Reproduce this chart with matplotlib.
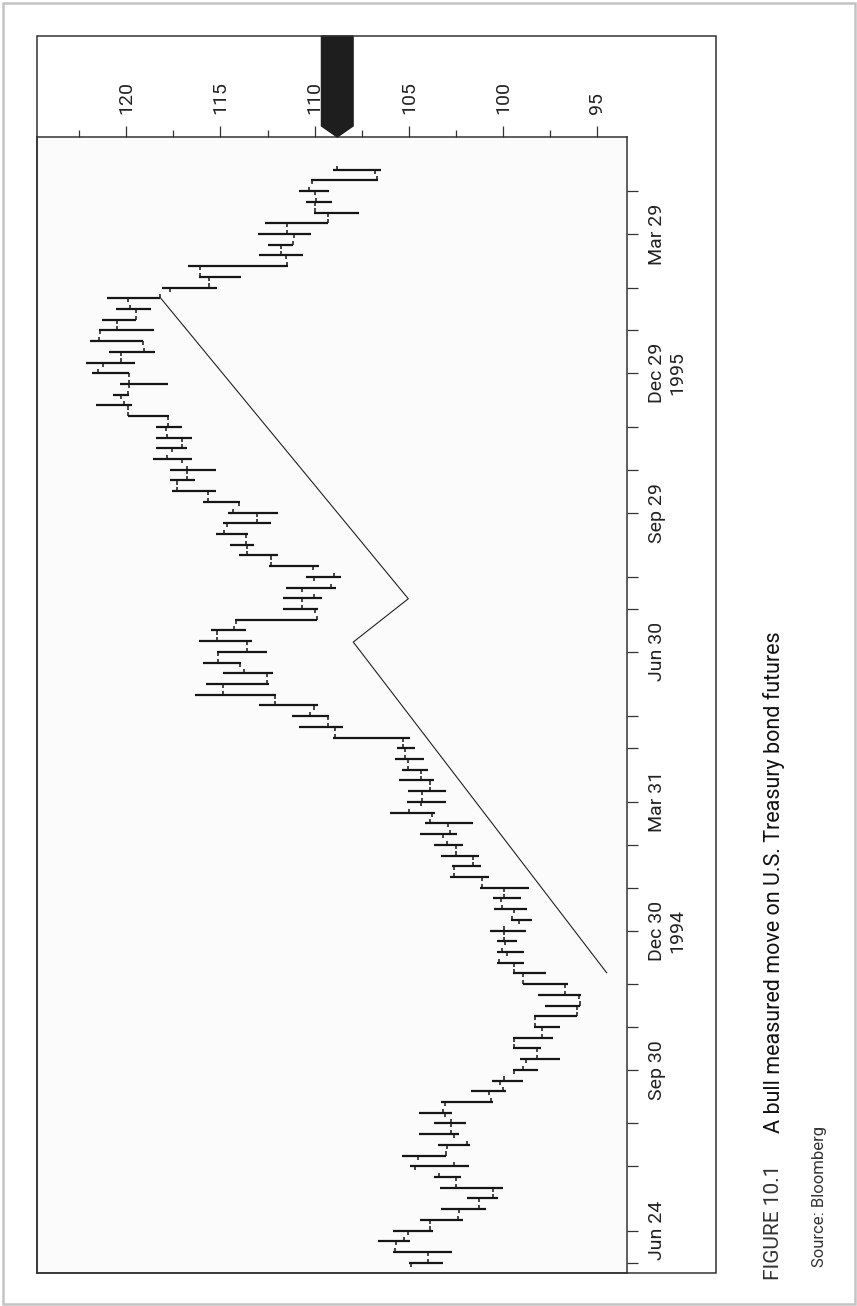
import matplotlib
matplotlib.use("agg")
import matplotlib.pyplot as plt
from matplotlib.patches import Polygon, Rectangle
from matplotlib import font_manager

# weekly T-bond futures bars, Jun 1994 - May 1996
# index 0 = first weekly bar at the bottom of the (rotated) chart
HIGH = [104.98, 105.86, 106.66, 105.86, 104.39, 103.30, 101.93, 103.33, 103.68, 104.93,
        105.37, 103.44, 104.45, 103.68, 104.45, 103.30, 101.70, 100.61, 99.46, 99.10,
        99.49, 99.49, 98.34, 98.34, 97.78, 98.13, 98.96, 99.46, 100.31, 100.31,
        100.31, 100.69, 99.60, 100.47, 100.55, 101.23, 102.82, 102.73, 103.30, 103.68,
        104.39, 104.15, 106.00, 105.08, 105.03, 105.51, 105.37, 105.74, 105.65, 109.01,
        110.83, 111.20, 112.94, 116.35, 115.77, 114.85, 115.94, 115.20, 116.14, 115.50,
        114.23, 111.67, 111.67, 111.54, 110.48, 112.43, 114.02, 114.50, 115.22, 114.88,
        114.62, 115.94, 117.57, 117.68, 117.68, 118.60, 118.44, 118.44, 118.44, 119.89,
        121.62, 120.69, 120.33, 121.80, 122.14, 120.90, 121.91, 121.43, 121.29, 120.56,
        121.04, 118.12, 116.14, 116.71, 112.94, 112.46, 113.03, 112.64, 110.04, 110.48,
        110.82, 110.20, 109.01]
LOW = [103.17, 102.73, 104.94, 103.70, 102.11, 100.92, 100.25, 99.99, 102.22, 101.81,
       103.05, 101.76, 102.32, 101.98, 102.73, 100.52, 99.85, 98.93, 98.13, 96.98,
       98.00, 97.37, 96.98, 96.09, 95.92, 95.88, 96.57, 97.74, 98.89, 98.89,
       99.25, 98.80, 98.45, 98.75, 99.07, 98.63, 100.73, 101.19, 101.26, 102.11,
       102.46, 101.61, 103.61, 103.03, 103.03, 103.67, 103.97, 104.18, 104.68, 104.94,
       108.51, 109.22, 109.84, 112.05, 112.43, 112.23, 113.91, 112.55, 113.34, 113.66,
       109.86, 109.84, 109.60, 108.87, 108.62, 109.76, 111.95, 113.21, 113.52, 112.32,
       111.95, 113.96, 115.25, 116.37, 115.25, 116.53, 116.79, 116.50, 117.03, 117.72,
       119.71, 119.84, 117.80, 119.84, 119.54, 118.46, 119.10, 118.51, 119.49, 118.70,
       118.21, 115.17, 113.91, 111.43, 110.61, 111.14, 110.21, 109.31, 107.63, 109.10,
       109.22, 106.66, 106.48]
OPEN = [104.90, 103.97, 105.68, 105.03, 103.88, 102.32, 101.28, 100.52, 102.50, 104.69,
        104.50, 103.00, 102.61, 102.78, 103.08, 103.08, 100.73, 100.16, 99.42, 98.79,
        98.22, 99.40, 97.95, 98.30, 96.10, 95.95, 96.71, 98.93, 99.40, 99.78,
        99.90, 99.94, 99.14, 99.40, 100.10, 99.95, 101.14, 102.61, 101.61, 102.50,
        103.20, 102.91, 103.79, 104.37, 104.30, 103.90, 104.37, 105.03, 105.20, 105.33,
        108.92, 109.28, 110.02, 112.11, 114.85, 112.55, 113.95, 115.12, 113.60, 115.20,
        114.20, 110.00, 110.69, 110.66, 110.02, 110.07, 112.30, 113.60, 113.65, 114.66,
        113.08, 114.00, 115.65, 117.30, 116.80, 117.06, 117.60, 117.06, 117.90, 117.80,
        119.90, 120.30, 119.84, 119.84, 121.25, 120.30, 119.10, 121.40, 120.50, 119.49,
        119.89, 117.68, 115.60, 116.09, 111.50, 111.80, 111.10, 111.45, 109.28, 110.00,
        110.00, 110.13, 106.80]
CLOSE = [103.97, 105.74, 105.24, 103.88, 102.37, 101.28, 100.52, 102.50, 103.40, 102.61,
         103.05, 101.90, 102.78, 102.78, 103.20, 100.66, 99.99, 99.95, 98.93, 98.22,
         99.40, 97.95, 98.30, 96.09, 95.92, 96.71, 98.93, 99.40, 100.20, 100.07,
         99.94, 99.94, 99.50, 100.04, 99.95, 101.14, 102.61, 101.61, 102.50, 102.96,
         102.82, 103.88, 104.98, 104.32, 103.88, 104.37, 105.03, 105.21, 105.30, 108.92,
         109.28, 110.25, 112.11, 114.85, 112.55, 113.74, 115.12, 113.60, 115.20, 114.27,
         109.89, 110.69, 110.02, 109.15, 108.97, 112.30, 113.58, 113.65, 114.80, 113.08,
         114.35, 115.65, 117.33, 116.79, 116.80, 117.86, 117.06, 117.86, 117.80, 119.89,
         120.10, 119.89, 119.84, 121.49, 120.30, 119.04, 121.47, 120.51, 119.49, 119.80,
         118.21, 115.59, 116.09, 111.49, 111.80, 111.14, 111.45, 109.31, 110.00, 109.93,
         110.29, 106.71, 108.80]

# measured-move guide line (bar index, price)
LINE_IDX = [27.06, 57.92, 61.96, 90.09]
LINE_PRICE = [94.50, 107.95, 105.03, 118.21]

# date axis: month ticks (bar index) and their labels
DATE_TICKS = [0, 3, 9, 13, 18, 22, 26, 31, 35, 39, 43, 48, 51, 57, 61, 64, 70, 74, 78,
              83, 87, 91, 96, 100]
DATE_LABELS = {3: "Jun 24", 18: "Sep 30", 31: "Dec 30\n1994", 43: "Mar 31",
               57: "Jun 30", 70: "Sep 29", 83: "Dec 29\n1995", 96: "Mar 29"}
PRICE_TICKS = [95, 100, 105, 110, 115, 120]
PRICE_MINOR = [97.5, 102.5, 107.5, 112.5, 117.5, 122.5]

# font: condensed face if there is one
names = {f.name for f in font_manager.fontManager.ttflist}
face = "Liberation Sans Narrow" if "Liberation Sans Narrow" in names else "Roboto"
plt.rcParams["font.family"] = [face, "DejaVu Sans"]

W, H = 857, 1306
fig = plt.figure(figsize=(W / 100, H / 100), dpi=100)
fig.patch.set_facecolor("white")

# plot area in pixel terms: x 37..627, y 137..1273
ax = fig.add_axes([37 / W, (H - 1273) / H, 590 / W, 1136 / H])
ax.set_facecolor("#fbfbfb")
ax.set_xlim(124.74, 93.42)   # price runs right-to-left (chart is rotated)
ax.set_ylim(-0.96, 105.05)

idx = list(range(len(HIGH)))
ink = "#161616"
ax.hlines(idx, LOW, HIGH, color=ink, lw=1.6)
ax.vlines(OPEN, [i - 0.38 for i in idx], idx, color=ink, lw=1.1)
ax.vlines(CLOSE, idx, [i + 0.38 for i in idx], color=ink, lw=1.1)

ax.plot(LINE_PRICE, LINE_IDX, color="#222222", lw=0.8)

# spines and ticks
for sp in ax.spines.values():
    sp.set_color("#333333")
    sp.set_linewidth(1.1)

ax.xaxis.tick_top()
ax.set_xticks(PRICE_TICKS)
ax.set_xticklabels([str(p) for p in PRICE_TICKS])
ax.set_xticks(PRICE_MINOR, minor=True)
ax.tick_params(axis="x", which="major", direction="out", length=7.9, width=0.9,
               color="#333333", pad=9, labelsize=14, labelrotation=90,
               labelcolor="#222222")
ax.tick_params(axis="x", which="minor", direction="out", length=5, width=0.9,
               color="#333333")

ax.yaxis.tick_right()
ax.set_yticks(DATE_TICKS)
ax.set_yticklabels([DATE_LABELS.get(t, "") for t in DATE_TICKS])
ax.tick_params(axis="y", which="major", direction="out", length=7.9, width=0.9,
               color="#333333", pad=7, labelsize=14, labelrotation=90,
               labelcolor="#222222")
for lbl in ax.get_yticklabels():
    lbl.set_multialignment("center")
    lbl.set_verticalalignment("center")

# last-price marker on the price scale
last = CLOSE[-1]
hw = 0.84
marker = Polygon([(last + hw, 1.0889), (last - hw, 1.0889), (last - hw, 1.0097),
                  (last, 1.0), (last + hw, 1.0097)],
                 closed=True, transform=ax.get_xaxis_transform(),
                 facecolor="#1e1e1e", edgecolor="#1e1e1e", clip_on=False, zorder=5)
ax.add_patch(marker)

# outer frame round plot + scales, and the light page border
fig.patches.append(Rectangle((37 / W, (H - 1273) / H), (716 - 37) / W, (1273 - 36) / H,
                             transform=fig.transFigure, fill=False,
                             edgecolor="#333333", lw=1.1))
fig.patches.append(Rectangle((2.5 / W, 2.5 / H), (W - 5) / W, (H - 5) / H,
                             transform=fig.transFigure, fill=False,
                             edgecolor="#c4c4c4", lw=1.8))

# caption, rotated like the chart
fig.text(779 / W, 1 - 1280 / H, "FIGURE 10.1", rotation=90, rotation_mode="anchor",
         ha="left", va="baseline", fontsize=15, color="#333333")
fig.text(780 / W, 1 - 1133 / H, "A bull measured move on U.S. Treasury bond futures",
         rotation=90, rotation_mode="anchor", ha="left", va="baseline",
         fontsize=15.5, color="#111111")
fig.text(824 / W, 1 - 1267 / H, "Source: Bloomberg", rotation=90, rotation_mode="anchor",
         ha="left", va="baseline", fontsize=12, color="#333333")

fig.savefig("out.png", dpi=100)
